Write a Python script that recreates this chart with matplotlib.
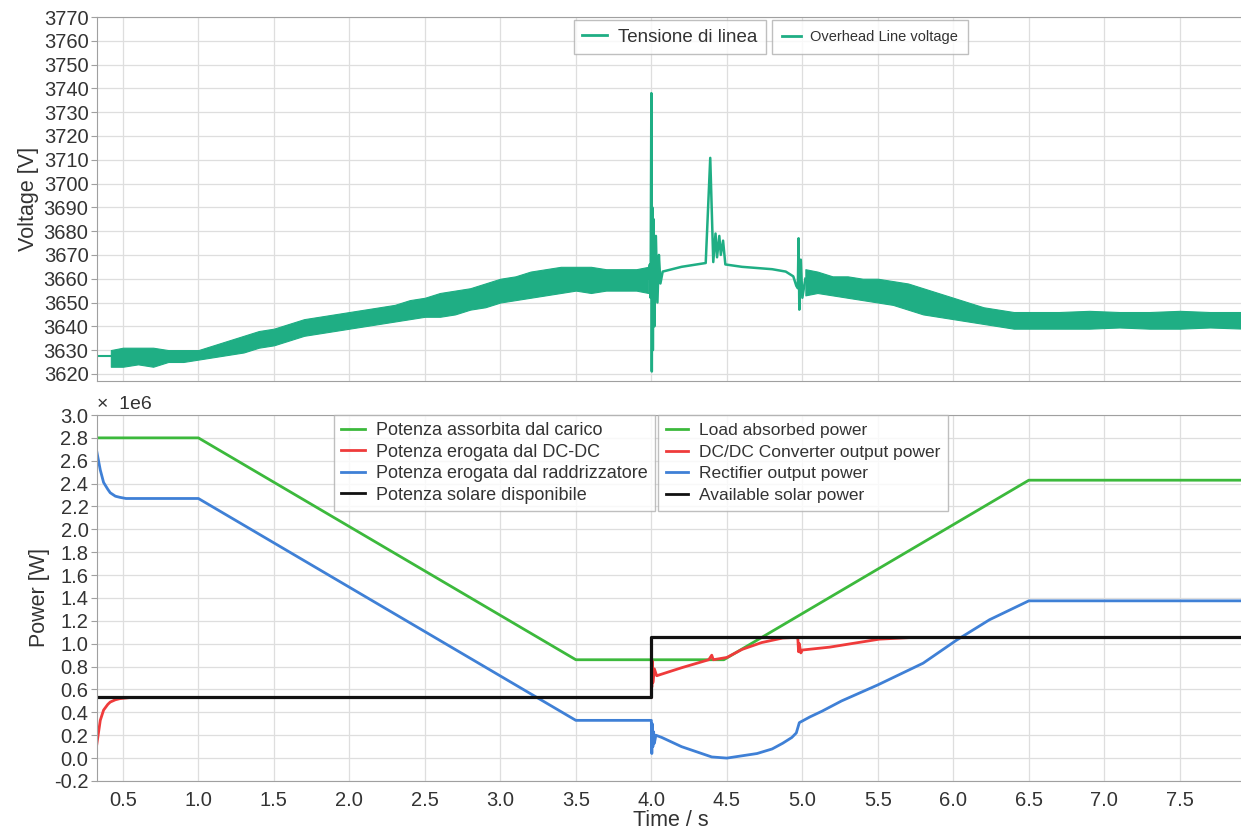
import numpy as np
import matplotlib
matplotlib.use('Agg')
import matplotlib.pyplot as plt
from matplotlib.lines import Line2D

plt.rcParams['font.family'] = ['Liberation Sans', 'DejaVu Sans']

# ---- overhead line voltage (V) ----
# thin trace at start of simulation
v_start_t = [0.327, 0.42]
v_start_v = [3627.5, 3627.5]

# noisy band before 4 s (lower / upper envelope)
v_band1_t = [0.42, 0.5, 0.6, 0.7, 0.8, 0.9, 1.0, 1.1, 1.2, 1.3, 1.4, 1.5, 1.6, 1.7, 1.8,
             1.9, 2.0, 2.1, 2.2, 2.3, 2.4, 2.5, 2.6, 2.7, 2.8, 2.9, 3.0, 3.1, 3.2, 3.3,
             3.4, 3.5, 3.6, 3.7, 3.8, 3.9, 3.98]
v_band1_lo = [3623, 3623, 3624, 3623, 3625, 3625, 3626, 3627, 3628, 3629, 3631, 3632, 3634,
              3636, 3637, 3638, 3639, 3640, 3641, 3642, 3643, 3644, 3644, 3645, 3647, 3648,
              3650, 3651, 3652, 3653, 3654, 3655, 3654, 3655, 3655, 3655, 3654]
v_band1_hi = [3630, 3631, 3631, 3631, 3630, 3630, 3630, 3632, 3634, 3636, 3638, 3639, 3641,
              3643, 3644, 3645, 3646, 3647, 3648, 3649, 3651, 3652, 3654, 3655, 3656, 3658,
              3660, 3661, 3663, 3664, 3665, 3665, 3665, 3664, 3664, 3664, 3665]

# transients between 4 s and 5 s
v_tr_t = [3.98, 3.99, 3.995, 4.0, 4.003, 4.006, 4.01, 4.015, 4.02, 4.03, 4.04, 4.05, 4.06,
          4.075, 4.2, 4.36, 4.39, 4.41, 4.425, 4.435, 4.45, 4.46, 4.475, 4.49, 4.6, 4.7, 4.8,
          4.89, 4.94, 4.96, 4.97, 4.975, 4.98, 4.99, 5.0, 5.02]
v_tr_v = [3660, 3666, 3652, 3738, 3621, 3690, 3630, 3685, 3640, 3678, 3650, 3670, 3658,
          3663, 3665, 3666.6, 3710.8, 3667, 3679, 3669, 3678, 3670, 3676, 3666, 3665, 3664.5,
          3664, 3663, 3661, 3657, 3656, 3677, 3647, 3668, 3652, 3660]

# noisy band after 5 s
v_band2_t = [5.02, 5.1, 5.2, 5.3, 5.4, 5.5, 5.6, 5.7, 5.8, 5.9, 6.0, 6.1, 6.2, 6.3, 6.4, 6.5,
             6.7, 6.9, 7.1, 7.3, 7.5, 7.7, 7.93]
v_band2_lo = [3653, 3654, 3653, 3652, 3651, 3650, 3649, 3647, 3645, 3644, 3643, 3642, 3641,
              3640, 3639, 3639, 3639, 3639, 3639.5, 3639, 3639, 3639.5, 3639]
v_band2_hi = [3664, 3663, 3661, 3661, 3660, 3660, 3659, 3658, 3656, 3654, 3652, 3650, 3648,
              3647, 3646, 3646, 3646, 3646.5, 3646, 3646, 3646.5, 3646, 3646]

# ---- powers (MW) ----
load_t = [0.327, 1.0, 3.5, 4.48, 6.5, 7.93]
load_p = [2.8, 2.8, 0.86, 0.86, 2.43, 2.43]

solar_t = [0.327, 4.0, 4.0, 7.93]
solar_p = [0.535, 0.535, 1.06, 1.06]

rect_t = [0.327, 0.35, 0.372, 0.40, 0.416, 0.45, 0.48, 0.52, 1.0, 3.5, 4.0, 4.0, 4.003,
          4.006, 4.01, 4.015, 4.02, 4.03, 4.07, 4.2, 4.4, 4.5, 4.6, 4.7, 4.8, 4.87, 4.93,
          4.96, 4.98, 5.05, 5.13, 5.26, 5.5, 5.8, 6.02, 6.24, 6.5, 7.93]
rect_p = [2.68, 2.52, 2.41, 2.35, 2.32, 2.29, 2.28, 2.27, 2.27, 0.33, 0.33, 0.30, 0.04,
          0.30, 0.10, 0.23, 0.13, 0.20, 0.18, 0.10, 0.01, 0.0, 0.02, 0.04, 0.08, 0.13, 0.18,
          0.22, 0.31, 0.36, 0.41, 0.50, 0.64, 0.83, 1.03, 1.21, 1.375, 1.375]

dcdc_t = [0.327, 0.35, 0.372, 0.40, 0.416, 0.45, 0.48, 0.55, 4.0, 4.0, 4.003, 4.006, 4.01,
          4.02, 4.035, 4.2, 4.38, 4.40, 4.41, 4.5, 4.6, 4.73, 4.87, 4.95, 4.97, 4.975, 4.98,
          4.99, 5.0, 5.18, 5.51, 5.73, 7.93]
dcdc_p = [0.12, 0.33, 0.42, 0.47, 0.49, 0.51, 0.52, 0.53, 0.53, 0.90, 0.62, 0.85, 0.66,
          0.78, 0.72, 0.79, 0.86, 0.90, 0.86, 0.88, 0.95, 1.01, 1.05, 1.055, 1.05, 0.93,
          1.0, 0.92, 0.945, 0.97, 1.04, 1.055, 1.055]

labels_it = ['Potenza assorbita dal carico', 'Potenza erogata dal DC-DC',
             'Potenza erogata dal raddrizzatore', 'Potenza solare disponibile']
labels_en = ['Load absorbed power', 'DC/DC Converter output power',
             'Rectifier output power', 'Available solar power']

c_volt = '#1fae84'
c_load = '#3cb93c'
c_dcdc = '#ef3b3b'
c_rect = '#3f80d6'
c_solar = '#111111'
grid_c = '#dedede'
spine_c = '#a0a0a0'
txt_c = '#333333'

fig = plt.figure(figsize=(12.41, 8.31), dpi=100)
ax1 = fig.add_axes([0.078, 0.5415, 0.925, 0.438])
ax2 = fig.add_axes([0.078, 0.0602, 0.925, 0.4404])

# top panel
ax1.plot(v_start_t, v_start_v, color=c_volt, lw=1.5)
ax1.fill_between(v_band1_t, v_band1_lo, v_band1_hi, color=c_volt, lw=0.8, edgecolor=c_volt)
ax1.plot(v_tr_t, v_tr_v, color=c_volt, lw=1.8)
ax1.fill_between(v_band2_t, v_band2_lo, v_band2_hi, color=c_volt, lw=0.8, edgecolor=c_volt)
ax1.set_ylim(3617, 3770)
ax1.set_yticks(np.arange(3620, 3771, 10))
ax1.set_ylabel('Voltage [V]', fontsize=15.5, color=txt_c, labelpad=3)

# bottom panel
ax2.plot(load_t, load_p, color=c_load, lw=2)
ax2.plot(rect_t, rect_p, color=c_rect, lw=2)
ax2.plot(dcdc_t, dcdc_p, color=c_dcdc, lw=2)
ax2.plot(solar_t, solar_p, color=c_solar, lw=2.3)
ax2.set_ylim(-0.2, 3.0)
ax2.set_yticks(np.arange(-0.2, 3.01, 0.2))
ax2.set_yticklabels([f'{v:.1f}' for v in np.arange(-0.2, 3.01, 0.2)])
ax2.set_ylabel('Power [W]', fontsize=15.5, color=txt_c, labelpad=3)
ax2.set_xlabel('Time / s', fontsize=15.5, color=txt_c, labelpad=0)
ax2.text(0.0, 1.005, '×  1e6', transform=ax2.transAxes, fontsize=14, color=txt_c,
         ha='left', va='bottom')

for ax in (ax1, ax2):
    ax.set_xlim(0.327, 7.93)
    ax.set_xticks(np.arange(0.5, 7.9, 0.5))
    ax.grid(True, color=grid_c, lw=0.9)
    ax.set_axisbelow(True)
    for s in ax.spines.values():
        s.set_color(spine_c)
    ax.spines['right'].set_visible(False)
    ax.tick_params(axis='y', labelsize=14.5, colors=txt_c, length=4, width=0.8, pad=2)
    ax.tick_params(axis='y', color=spine_c)
    ax.tick_params(axis='x', labelsize=14.5, colors=txt_c, length=0, pad=7)
ax1.tick_params(axis='x', labelbottom=False)

# legends
hv = [Line2D([], [], color=c_volt, lw=2)]
leg_kw = dict(loc='upper left', frameon=True, fancybox=False, borderaxespad=0,
              handlelength=1.3, handletextpad=0.6, labelcolor=txt_c)
l1 = fig.legend(hv, ['Tensione di linea'], bbox_to_anchor=(574 / 1241, 1 - 20 / 831),
                fontsize=13.5, borderpad=0.45, **leg_kw)
l2 = fig.legend(hv, ['Overhead Line voltage'], bbox_to_anchor=(772 / 1241, 1 - 20 / 831),
                fontsize=10.5, borderpad=0.7, **leg_kw)

hp = [Line2D([], [], color=c, lw=2) for c in (c_load, c_dcdc, c_rect, c_solar)]
l3 = fig.legend(hp, labels_it, bbox_to_anchor=(334 / 1241, 1 - 415 / 831), fontsize=13,
                labelspacing=0.25, borderpad=0.4, **leg_kw)
l4 = fig.legend(hp, labels_en, bbox_to_anchor=(658 / 1241, 1 - 415 / 831), fontsize=12.5,
                labelspacing=0.38, borderpad=0.45, **leg_kw)
for lg in (l1, l2, l3, l4):
    lg.get_frame().set_edgecolor('#b0b0b0')
    lg.get_frame().set_linewidth(1.0)

fig.savefig('out.png', dpi=100)
